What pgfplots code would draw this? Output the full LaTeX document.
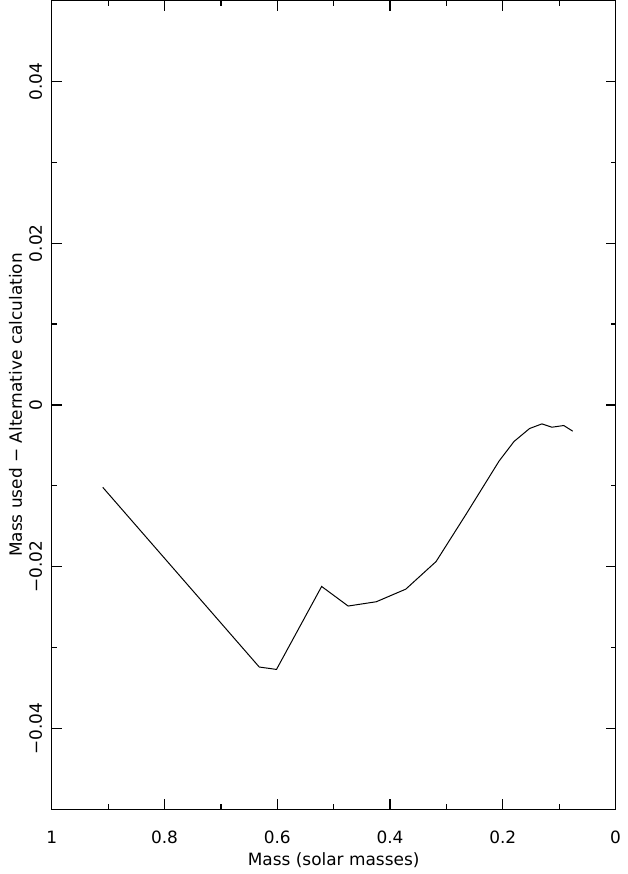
\documentclass[border=0pt]{standalone}
\usepackage{fontspec}
\setmainfont{DejaVu Sans}
\usepackage{pgfplots}
\pgfplotsset{compat=1.18}

\begin{document}
\begin{tikzpicture}
\begin{axis}[
    scale only axis,
    width=283pt,
    height=406pt,
    font=\fontsize{8.5}{10}\selectfont,
    x dir=reverse,
    xmin=0, xmax=1,
    ymin=-0.05, ymax=0.05,
    xtick={0,0.2,0.4,0.6,0.8,1},
    ytick={-0.04,-0.02,0,0.02,0.04},
    yticklabels={−0.04,−0.02,0,0.02,0.04},
    scaled y ticks=false,
    scaled x ticks=false,
    /pgf/number format/assume math mode=true,
    minor x tick num=1,
    minor y tick num=1,
    tick align=inside,
    major tick length=5pt,
    minor tick length=2.5pt,
    axis line style={line width=0.6pt},
    every tick/.style={black, line width=0.6pt},
    xticklabel style={anchor=base},
    xticklabel shift=17pt,
    yticklabel style={rotate=90, anchor=base},
    yticklabel shift=5pt,
    xlabel={Mass (solar masses)},
    ylabel={Mass used − Alternative calculation},
    xlabel style={at={(axis description cs:0.5,0)}, anchor=base, yshift=-28pt},
    ylabel style={at={(axis description cs:-0.053,0.5)}, anchor=base},
]
\addplot[black, line width=0.5pt, mark=none] coordinates {
    (0.9096,-0.01018) (0.632,-0.0324) (0.6014,-0.0327) (0.5213,-0.02244)
    (0.4743,-0.02486) (0.4243,-0.02433) (0.372,-0.02277) (0.3183,-0.01936)
    (0.265,-0.0135) (0.2065,-0.00693) (0.18,-0.00451) (0.1524,-0.00291)
    (0.1306,-0.00234) (0.113,-0.00275) (0.0918,-0.00254) (0.0759,-0.00324)
};
\end{axis}
\path (current axis.south west) ++(-26pt,-31pt) rectangle ([xshift=3pt]current axis.north east);
\end{tikzpicture}
\end{document}
